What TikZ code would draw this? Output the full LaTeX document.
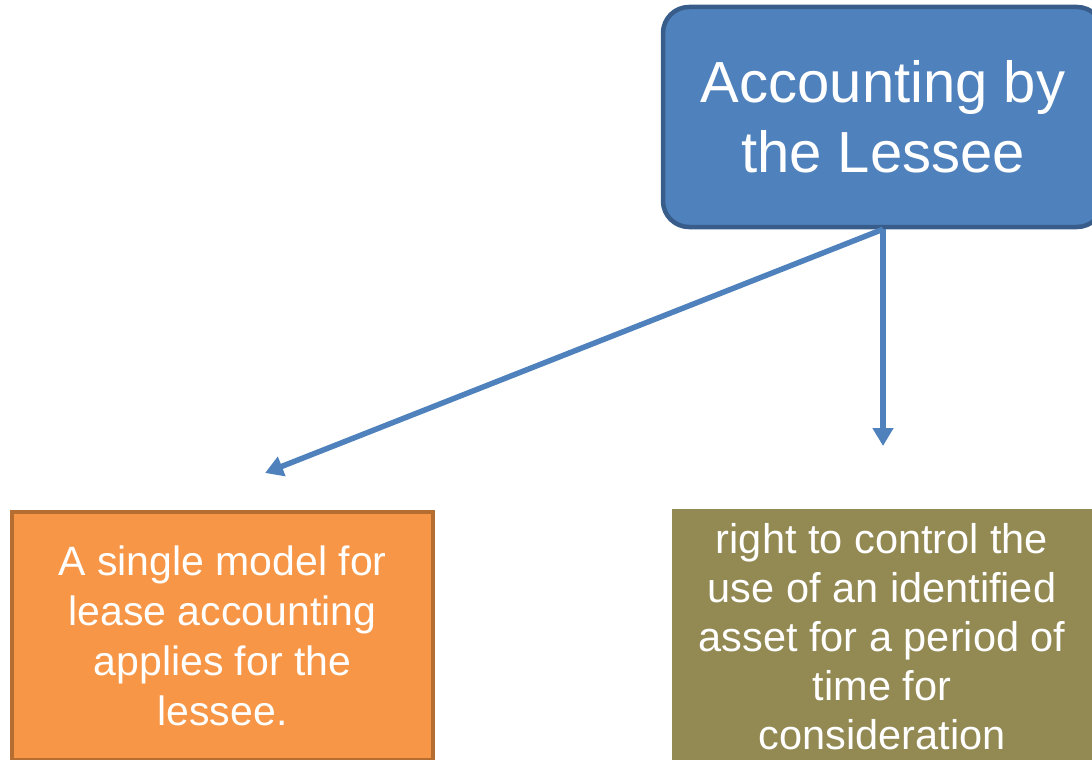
\documentclass[tikz,border=0pt]{standalone}
\usepackage{fontspec}
\setmainfont{Liberation Sans}
\usetikzlibrary{arrows.meta}
\definecolor{topfill}{HTML}{4F81BD}
\definecolor{topline}{HTML}{385D8A}
\definecolor{orangefill}{HTML}{F79646}
\definecolor{orangeline}{HTML}{B66D31}
\definecolor{olivefill}{HTML}{938953}
\definecolor{linkblue}{HTML}{4F81BD}
\begin{document}
\begin{tikzpicture}[x=1pt,y=-1pt,
  headbox/.style={draw=topline,line width=4.5pt,fill=topfill,rounded corners=26pt,
    minimum width=440pt,minimum height=220pt,inner sep=0pt,text=white,align=center,
    font=\fontsize{58}{70}\selectfont},
  leftbox/.style={draw=orangeline,line width=3.5pt,fill=orangefill,
    minimum width=421pt,minimum height=248pt,inner sep=0pt,text=white,align=center,
    font=\fontsize{41}{50}\selectfont},
  rightbox/.style={fill=olivefill,
    minimum width=420pt,minimum height=256pt,inner sep=0pt,text=white,align=center,
    font=\fontsize{41.5}{49}\selectfont},
  link/.style={draw=linkblue,line width=5.5pt,-{Triangle[length=18pt,width=20pt]}}]
\useasboundingbox (0,0) rectangle (1092,760);
% boxes
\node[headbox] (head) at (883,117) {Accounting by\\the Lessee};
\node[leftbox] (single) at (222.5,636) {A single model for\\lease accounting\\applies for the\\lessee.};
\node[rightbox] (right) at (882,637) {right to control the\\use of an identified\\asset for a period of\\time for\\consideration};
% arrow end points
\coordinate (tipL) at (265,473);
\coordinate (tipR) at (883,446);
\draw[link] (head.south) -- (tipL);
\draw[link] (head.south) -- (tipR);
\end{tikzpicture}
\end{document}
